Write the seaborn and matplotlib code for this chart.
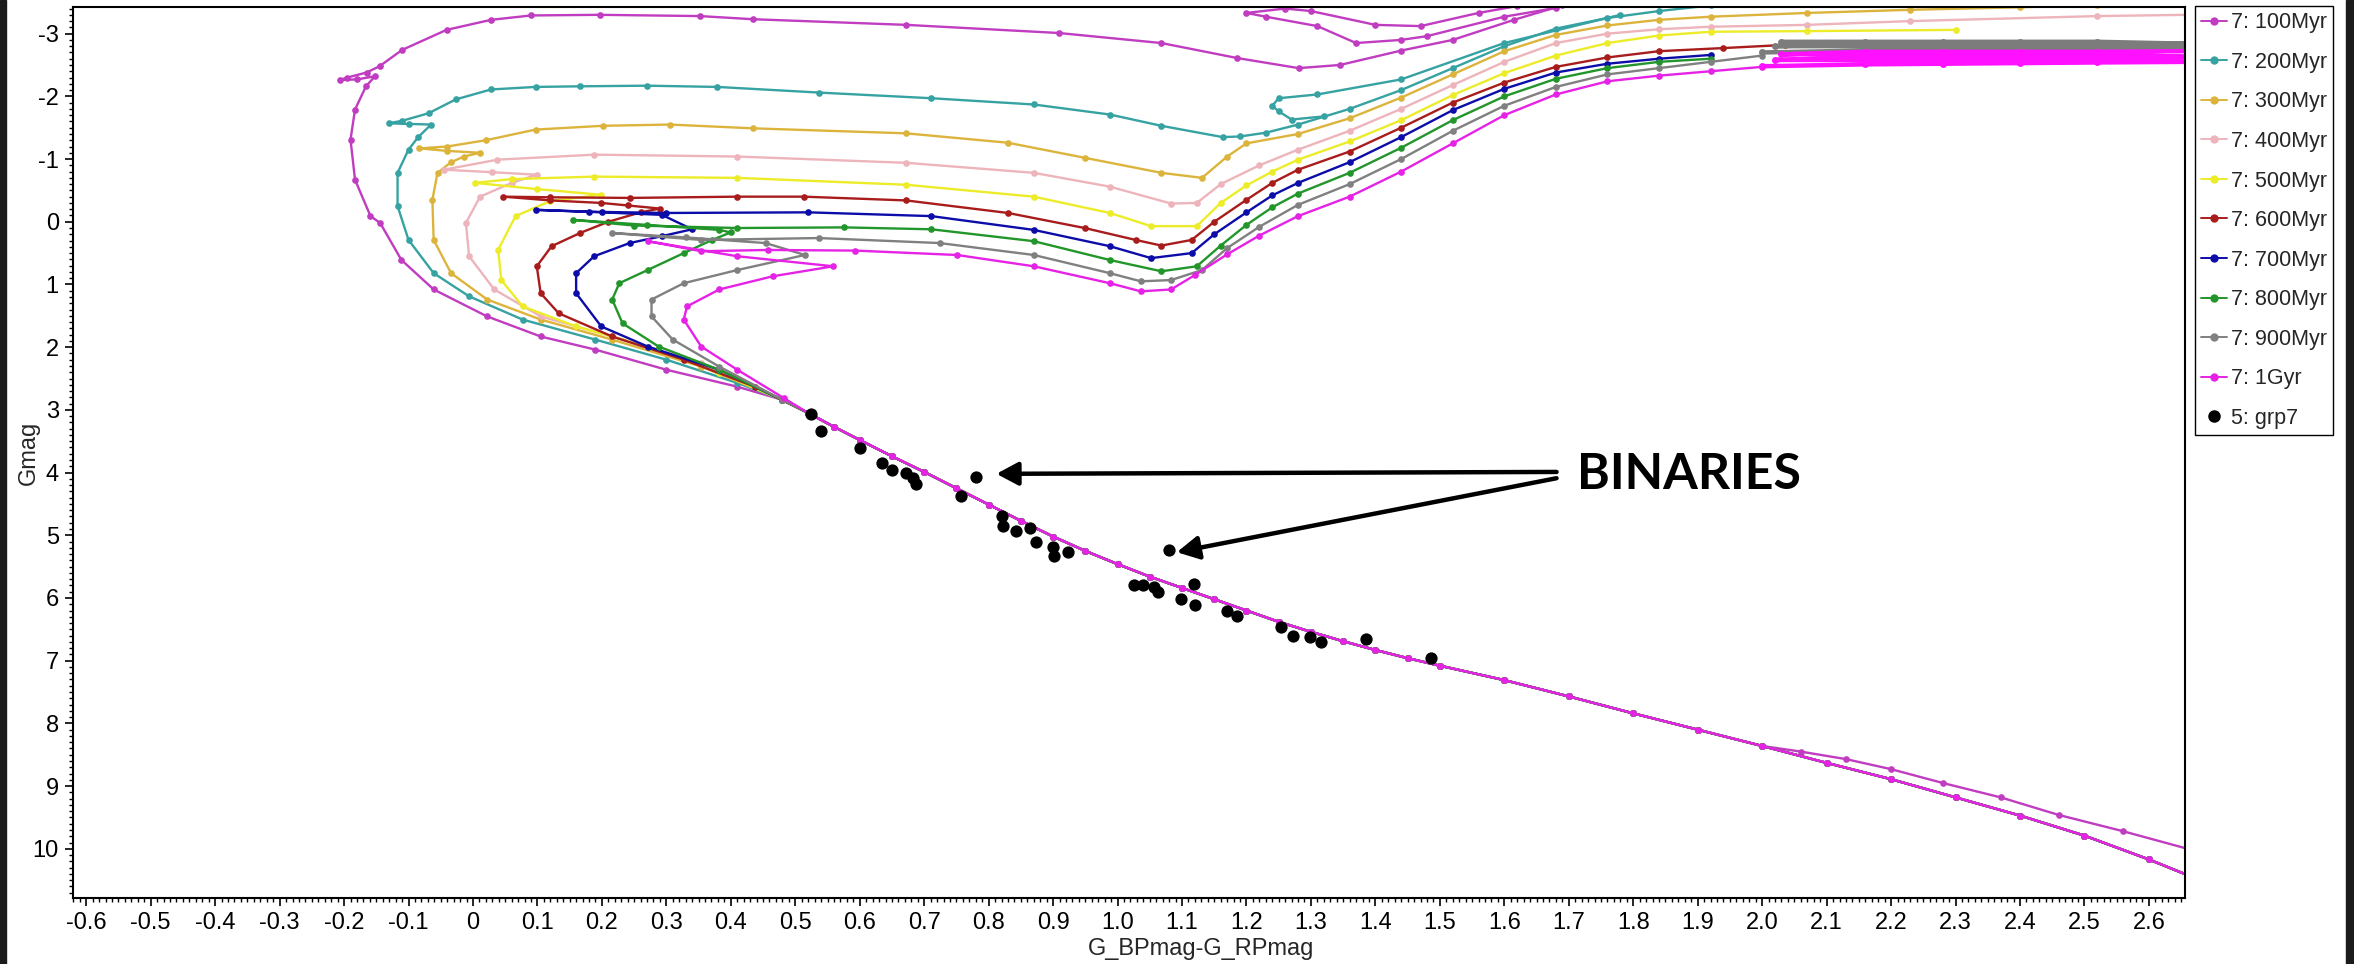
import matplotlib
matplotlib.use("Agg")
import matplotlib.pyplot as plt
from matplotlib.lines import Line2D
from matplotlib.patches import Rectangle
from matplotlib.ticker import MultipleLocator, FuncFormatter
import pandas as pd
import seaborn as sns

# ---------------------------------------------------------------- data ----
AGES = ["100Myr", "200Myr", "300Myr", "400Myr", "500Myr",
        "600Myr", "700Myr", "800Myr", "900Myr", "1Gyr"]
COLORS = ["#c03cc0", "#36a2a2", "#dcb43c", "#eeb4bc", "#ecec28",
          "#a81c1c", "#0c0ca8", "#22962a", "#808080", "#e622e6"]

# lower main sequence shared by all isochrones (bright end last)
MS_X = [2.00, 1.90, 1.80, 1.70, 1.60, 1.50, 1.45, 1.40, 1.35, 1.30, 1.25, 1.20, 1.15,
        1.10, 1.05, 1.00, 0.95, 0.90, 0.85, 0.80, 0.75, 0.70, 0.65, 0.60, 0.56, 0.52]
MS_Y = [8.36, 8.10, 7.84, 7.57, 7.31, 7.08, 6.96, 6.83, 6.69, 6.54, 6.38, 6.20, 6.02,
        5.84, 5.66, 5.46, 5.25, 5.02, 4.77, 4.51, 4.25, 3.99, 3.74, 3.48, 3.27, 3.05]
# faint red end of the main sequence
RED_X = [2.66, 2.60, 2.50, 2.40, 2.30, 2.20, 2.10]
RED_Y = [10.42, 10.17, 9.79, 9.47, 9.18, 8.89, 8.63]
# pre-main-sequence branch of the youngest isochrone
PMS_X = [2.66, 2.56, 2.46, 2.37, 2.28, 2.20, 2.13, 2.06]
PMS_Y = [10.00, 9.72, 9.46, 9.18, 8.95, 8.73, 8.57, 8.45]

UP_100_X = [0.48, 0.41, 0.30, 0.19, 0.105, 0.022, -0.061, -0.111, -0.144, -0.159, -0.183,
            -0.190, -0.183, -0.166, -0.152, -0.180, -0.207, -0.195, -0.165, -0.145, -0.110,
            -0.041, 0.028, 0.090, 0.197, 0.352, 0.434, 0.672, 0.909, 1.068, 1.186, 1.281,
            1.345, 1.44, 1.52, 1.615, 1.69]
UP_100_Y = [2.84, 2.63, 2.36, 2.04, 1.83, 1.51, 1.08, 0.61, 0.02, -0.09, -0.67,
            -1.31, -1.79, -2.16, -2.32, -2.27, -2.26, -2.30, -2.38, -2.48, -2.74,
            -3.06, -3.22, -3.29, -3.30, -3.28, -3.23, -3.14, -3.01, -2.85, -2.61, -2.45,
            -2.50, -2.73, -2.90, -3.22, -3.45]
LOOP_100_X = [1.62, 1.56, 1.47, 1.40, 1.30, 1.26, 1.20, 1.23, 1.31, 1.37, 1.44, 1.48, 1.60, 1.68]
LOOP_100_Y = [-3.44, -3.33, -3.12, -3.14, -3.36, -3.40, -3.33, -3.27, -3.12, -2.85, -2.90,
              -2.96, -3.27, -3.41]

UP_200_X = [0.48, 0.41, 0.30, 0.19, 0.077, -0.006, -0.061, -0.100, -0.117, -0.117, -0.100,
            -0.085, -0.065, -0.100, -0.131, -0.110, -0.069, -0.027, 0.028, 0.097, 0.166,
            0.270, 0.379, 0.537, 0.711, 0.870, 0.988, 1.068, 1.163, 1.190, 1.230, 1.280,
            1.360, 1.440, 1.520, 1.600, 1.680, 1.760, 1.840, 1.920]
UP_200_Y = [2.84, 2.57, 2.20, 1.88, 1.56, 1.19, 0.82, 0.29, -0.25, -0.78, -1.15,
            -1.35, -1.55, -1.56, -1.57, -1.61, -1.73, -1.95, -2.11, -2.15, -2.16,
            -2.17, -2.15, -2.06, -1.97, -1.87, -1.71, -1.53, -1.35, -1.36, -1.42, -1.55,
            -1.80, -2.10, -2.45, -2.80, -3.08, -3.25, -3.36, -3.45]
LOOP_200_X = [1.78, 1.60, 1.44, 1.31, 1.25, 1.24, 1.25, 1.27, 1.32]
LOOP_200_Y = [-3.30, -2.85, -2.27, -2.03, -1.97, -1.85, -1.76, -1.63, -1.68]

UP_300_X = [0.48, 0.354, 0.216, 0.105, 0.022, -0.034, -0.061, -0.063, -0.055, -0.034, -0.014,
            0.011, -0.040, -0.083, -0.040, 0.020, 0.097, 0.201, 0.305, 0.434, 0.672, 0.830,
            0.949, 1.068, 1.131, 1.170, 1.200, 1.280, 1.360, 1.440, 1.520, 1.600, 1.680,
            1.760, 1.840, 1.920, 2.070, 2.230, 2.400, 2.520]
UP_300_Y = [2.84, 2.31, 1.88, 1.56, 1.24, 0.82, 0.29, -0.35, -0.78, -0.95, -1.04,
            -1.10, -1.13, -1.17, -1.20, -1.30, -1.47, -1.53, -1.55, -1.49, -1.41, -1.26,
            -1.02, -0.78, -0.70, -1.04, -1.25, -1.40, -1.65, -1.98, -2.35, -2.72, -2.98,
            -3.13, -3.22, -3.27, -3.33, -3.38, -3.42, -3.46]

UP_400_X = [0.48, 0.354, 0.216, 0.105, 0.033, -0.006, -0.011, 0.011, 0.060, 0.099, 0.030,
            -0.045, 0.038, 0.188, 0.410, 0.672, 0.870, 0.988, 1.083, 1.123, 1.160, 1.220,
            1.280, 1.360, 1.440, 1.520, 1.600, 1.680, 1.760, 1.840, 1.920, 2.070, 2.230,
            2.520, 2.660]
UP_400_Y = [2.84, 2.25, 1.83, 1.51, 1.08, 0.55, 0.02, -0.40, -0.62, -0.75, -0.79,
            -0.83, -0.99, -1.07, -1.04, -0.94, -0.78, -0.56, -0.29, -0.30, -0.60, -0.90,
            -1.15, -1.45, -1.80, -2.18, -2.55, -2.85, -3.00, -3.07, -3.11, -3.14, -3.20,
            -3.28, -3.30]

UP_500_X = [0.48, 0.382, 0.271, 0.160, 0.077, 0.044, 0.039, 0.066, 0.120, 0.199, 0.100,
            0.003, 0.060, 0.188, 0.410, 0.672, 0.870, 0.988, 1.052, 1.123, 1.160, 1.200,
            1.240, 1.280, 1.360, 1.440, 1.520, 1.600, 1.680, 1.760, 1.840, 1.920, 2.070,
            2.300]
UP_500_Y = [2.84, 2.41, 1.99, 1.67, 1.35, 0.93, 0.45, -0.09, -0.33, -0.43, -0.52,
            -0.62, -0.68, -0.72, -0.70, -0.59, -0.40, -0.14, 0.07, 0.07, -0.30, -0.58,
            -0.80, -0.99, -1.28, -1.62, -2.02, -2.37, -2.65, -2.85, -2.97, -3.03, -3.04,
            -3.06]

UP_600_X = [0.437, 0.327, 0.216, 0.133, 0.105, 0.099, 0.122, 0.166, 0.210, 0.260, 0.290,
            0.240, 0.199, 0.120, 0.047, 0.120, 0.243, 0.410, 0.513, 0.672, 0.830, 0.949,
            1.028, 1.068, 1.115, 1.150, 1.200, 1.240, 1.280, 1.360, 1.440, 1.520, 1.600,
            1.680, 1.760, 1.840, 1.940, 2.035]
UP_600_Y = [2.63, 2.20, 1.83, 1.46, 1.14, 0.71, 0.39, 0.18, 0.00, -0.15, -0.21,
            -0.26, -0.30, -0.34, -0.40, -0.39, -0.38, -0.40, -0.40, -0.34, -0.14, 0.10,
            0.29, 0.38, 0.29, 0.00, -0.35, -0.62, -0.83, -1.12, -1.50, -1.90, -2.22,
            -2.47, -2.62, -2.72, -2.77, -2.82]

UP_700_X = [0.48, 0.382, 0.271, 0.199, 0.160, 0.160, 0.188, 0.243, 0.293, 0.340, 0.293,
            0.200, 0.097, 0.180, 0.299, 0.520, 0.711, 0.870, 0.988, 1.052, 1.115, 1.150,
            1.200, 1.240, 1.280, 1.360, 1.440, 1.520, 1.600, 1.680, 1.760, 1.840, 1.920]
UP_700_Y = [2.84, 2.36, 1.99, 1.67, 1.14, 0.82, 0.55, 0.34, 0.23, 0.12, -0.11,
            -0.15, -0.19, -0.16, -0.14, -0.15, -0.09, 0.13, 0.39, 0.58, 0.50, 0.20,
            -0.15, -0.42, -0.62, -0.95, -1.35, -1.78, -2.12, -2.38, -2.52, -2.60, -2.66]

UP_800_X = [0.48, 0.382, 0.288, 0.232, 0.216, 0.227, 0.271, 0.327, 0.371, 0.400, 0.382,
            0.270, 0.155, 0.250, 0.410, 0.576, 0.711, 0.870, 0.988, 1.068, 1.123, 1.160,
            1.200, 1.240, 1.280, 1.360, 1.440, 1.520, 1.600, 1.680, 1.760, 1.840, 1.920]
UP_800_Y = [2.84, 2.36, 1.99, 1.62, 1.24, 0.98, 0.77, 0.50, 0.29, 0.17, 0.13,
            0.05, -0.03, 0.06, 0.10, 0.09, 0.12, 0.31, 0.61, 0.79, 0.71, 0.38,
            0.05, -0.23, -0.45, -0.78, -1.18, -1.62, -2.00, -2.28, -2.45, -2.55, -2.60]

UP_900_X = [0.48, 0.382, 0.310, 0.277, 0.277, 0.327, 0.410, 0.515, 0.454, 0.330, 0.216,
            0.354, 0.537, 0.724, 0.870, 0.988, 1.036, 1.083, 1.131, 1.170, 1.220, 1.280,
            1.360, 1.440, 1.520, 1.600, 1.680, 1.760, 1.840, 1.920, 2.000]
UP_900_Y = [2.84, 2.31, 1.88, 1.51, 1.24, 0.98, 0.77, 0.53, 0.34, 0.25, 0.18,
            0.29, 0.26, 0.34, 0.53, 0.82, 0.95, 0.93, 0.77, 0.42, 0.08, -0.27,
            -0.60, -1.00, -1.45, -1.85, -2.15, -2.35, -2.45, -2.55, -2.65]
BAND_900_X = [2.00, 2.16, 2.28, 2.40, 2.52, 2.66, 2.52, 2.40, 2.28, 2.16, 2.02,
              2.16, 2.28, 2.40, 2.52, 2.66, 2.52, 2.40, 2.28, 2.16, 2.03]
BAND_900_Y = [-2.70, -2.73, -2.74, -2.75, -2.76, -2.77, -2.80, -2.80, -2.80, -2.80, -2.80,
              -2.83, -2.83, -2.83, -2.83, -2.84, -2.87, -2.87, -2.87, -2.87, -2.87]

UP_1G_X = [0.482, 0.410, 0.354, 0.327, 0.332, 0.382, 0.465, 0.559, 0.410, 0.271, 0.354,
           0.458, 0.593, 0.751, 0.870, 0.988, 1.036, 1.083, 1.120, 1.170, 1.220, 1.280,
           1.360, 1.440, 1.520, 1.600, 1.680, 1.760, 1.840, 1.920, 2.000]
UP_1G_Y = [2.81, 2.36, 1.99, 1.56, 1.35, 1.08, 0.87, 0.71, 0.55, 0.31, 0.47,
           0.45, 0.46, 0.53, 0.71, 0.98, 1.11, 1.08, 0.85, 0.52, 0.22, -0.09,
           -0.40, -0.80, -1.25, -1.70, -2.03, -2.24, -2.33, -2.40, -2.47]
BAND_1G_X = [2.00, 2.16, 2.28, 2.40, 2.52, 2.66, 2.52, 2.40, 2.28, 2.16, 2.02, 2.16, 2.28,
             2.40, 2.52, 2.66, 2.52, 2.40, 2.28, 2.16, 2.03, 2.16, 2.28, 2.40, 2.52, 2.66]
BAND_1G_Y = [-2.48, -2.51, -2.52, -2.53, -2.54, -2.55, -2.58, -2.58, -2.58, -2.58, -2.58,
             -2.62, -2.62, -2.62, -2.62, -2.63, -2.67, -2.67, -2.67, -2.67, -2.67, -2.71,
             -2.71, -2.71, -2.71, -2.72]

# cluster members (group 7)
GRP7_X = [0.525, 0.54, 0.60, 0.635, 0.65, 0.672, 0.682, 0.687, 0.781, 0.757, 0.821, 0.822,
          0.843, 0.864, 0.873, 0.90, 0.902, 0.923, 1.08, 1.025, 1.039, 1.056, 1.063, 1.119,
          1.099, 1.12, 1.169, 1.186, 1.254, 1.272, 1.299, 1.315, 1.385, 1.487]
GRP7_Y = [3.06, 3.33, 3.61, 3.84, 3.96, 4.01, 4.09, 4.19, 4.07, 4.38, 4.70, 4.85,
          4.93, 4.89, 5.10, 5.19, 5.33, 5.26, 5.23, 5.79, 5.79, 5.82, 5.91, 5.77,
          6.01, 6.12, 6.20, 6.29, 6.46, 6.60, 6.62, 6.71, 6.65, 6.95]

# annotation of the two binaries
BINARY_TIPS = [(0.812, 4.02), (1.092, 5.27)]
ARROW_TAILS = [(1.681, 3.99), (1.681, 4.09)]
LABEL_POS = (1.712, 4.03)

# ------------------------------------------------------------ assemble ----
UPPER = {
    "100Myr": (UP_100_X, UP_100_Y), "200Myr": (UP_200_X, UP_200_Y),
    "300Myr": (UP_300_X, UP_300_Y), "400Myr": (UP_400_X, UP_400_Y),
    "500Myr": (UP_500_X, UP_500_Y), "600Myr": (UP_600_X, UP_600_Y),
    "700Myr": (UP_700_X, UP_700_Y), "800Myr": (UP_800_X, UP_800_Y),
    "900Myr": (UP_900_X, UP_900_Y), "1Gyr": (UP_1G_X, UP_1G_Y),
}
LOOPS = [("100Myr", LOOP_100_X, LOOP_100_Y), ("200Myr", LOOP_200_X, LOOP_200_Y)]
BANDS = [("900Myr", BAND_900_X, BAND_900_Y), ("1Gyr", BAND_1G_X, BAND_1G_Y)]

rows = []
for age in AGES:
    ux, uy = UPPER[age]
    if age == "100Myr":
        xs, ys = PMS_X + MS_X + ux, PMS_Y + MS_Y + uy
    else:
        xs, ys = RED_X + MS_X + ux, RED_Y + MS_Y + uy
    rows += [(age, age + "-main", x, y) for x, y in zip(xs, ys)]
for age, xs, ys in LOOPS:
    rows += [(age, age + "-loop", x, y) for x, y in zip(xs, ys)]
iso = pd.DataFrame(rows, columns=["age", "seg", "color", "gmag"])

band_rows = []
for age, xs, ys in BANDS:
    band_rows += [(age, age + "-band", x, y) for x, y in zip(xs, ys)]
bands = pd.DataFrame(band_rows, columns=["age", "seg", "color", "gmag"])

palette = dict(zip(AGES, COLORS))
palette_band = {"900Myr": "#7c7c7c", "1Gyr": "#ff10ff"}

# ---------------------------------------------------------------- plot ----
sns.set_style("ticks")
NARROW = ["Liberation Sans Narrow", "Liberation Sans", "DejaVu Sans"]
plt.rcParams["font.family"] = NARROW

fig = plt.figure(figsize=(23.54, 9.64), dpi=100, facecolor="white")
ax = fig.add_axes([72.7 / 2354, 1 - 897.7 / 964, (2185 - 72.7) / 2354, (897.7 - 7.3) / 964])

sns.lineplot(data=iso, x="color", y="gmag", hue="age", hue_order=AGES, palette=palette,
             units="seg", estimator=None, sort=False, marker="o", markersize=4.8,
             markeredgewidth=0, linewidth=1.7, legend=False, ax=ax)
sns.lineplot(data=bands, x="color", y="gmag", hue="age", palette=palette_band,
             units="seg", estimator=None, sort=False, marker="o", markersize=5,
             markeredgewidth=0, linewidth=3.2, legend=False, ax=ax)
sns.scatterplot(x=GRP7_X, y=GRP7_Y, color="black", s=78, marker="o", linewidth=0,
                legend=False, ax=ax, zorder=6)

for tip, tail in zip(BINARY_TIPS, ARROW_TAILS):
    ax.annotate("", xy=tip, xytext=tail,
                arrowprops=dict(arrowstyle="-|>,head_length=0.6,head_width=0.32",
                                lw=3.2, color="black", shrinkA=0, shrinkB=0,
                                mutation_scale=22), zorder=7)
ax.text(LABEL_POS[0], LABEL_POS[1], "BINARIES", ha="left", va="center",
        fontsize=36, fontweight="bold", family=["Lato", "DejaVu Sans"], color="black")

ax.set_xlim(-0.621, 2.656)
ax.set_ylim(10.78, -3.42)
ax.xaxis.set_major_locator(MultipleLocator(0.1))
ax.xaxis.set_minor_locator(MultipleLocator(0.01))
ax.yaxis.set_major_locator(MultipleLocator(1))
ax.yaxis.set_minor_locator(MultipleLocator(0.1))
ax.xaxis.set_major_formatter(FuncFormatter(lambda v, p: "0" if abs(v) < 1e-9 else f"{v:.1f}"))
ax.yaxis.set_major_formatter(FuncFormatter(lambda v, p: f"{v:.0f}"))
ax.tick_params(which="major", direction="out", length=6, width=1.2, labelsize=17,
               colors="black", pad=4)
ax.tick_params(which="minor", direction="out", length=3, width=1.0, colors="black")
for s in ax.spines.values():
    s.set_visible(True)
    s.set_linewidth(1.5)
    s.set_color("black")
ax.set_xlabel("G_BPmag-G_RPmag", fontsize=17, labelpad=6)
ax.xaxis.set_label_coords(0.534, -0.045)
ax.set_ylabel("Gmag", fontsize=17)
ax.yaxis.set_label_coords(-0.0155, 0.5)
ax.grid(False)

handles = [Line2D([0], [0], color=c, marker="o", markersize=6, markeredgewidth=0,
                  linewidth=1.4, label=f"7: {a}") for a, c in zip(AGES, COLORS)]
handles.append(Line2D([0], [0], color="black", marker="o", markersize=8, linestyle="none",
                      label="5: grp7"))
fig.legend(handles=handles, loc="upper left", bbox_to_anchor=(2195 / 2354, 1 - 6 / 964),
           frameon=True, fancybox=False, framealpha=1, edgecolor="black", fontsize=15.5,
           handlelength=1.2, handletextpad=0.15, labelspacing=0.86, borderpad=0.3,
           borderaxespad=0)

# dark screen edges at both sides
fig.patches.append(Rectangle((0, 0), 6 / 2354, 1, transform=fig.transFigure,
                             color="#1b1b1b", zorder=0))
fig.patches.append(Rectangle((2346 / 2354, 0), 8 / 2354, 1, transform=fig.transFigure,
                             color="#1b1b1b", zorder=0))

fig.savefig("out.png", dpi=100, facecolor="white")
